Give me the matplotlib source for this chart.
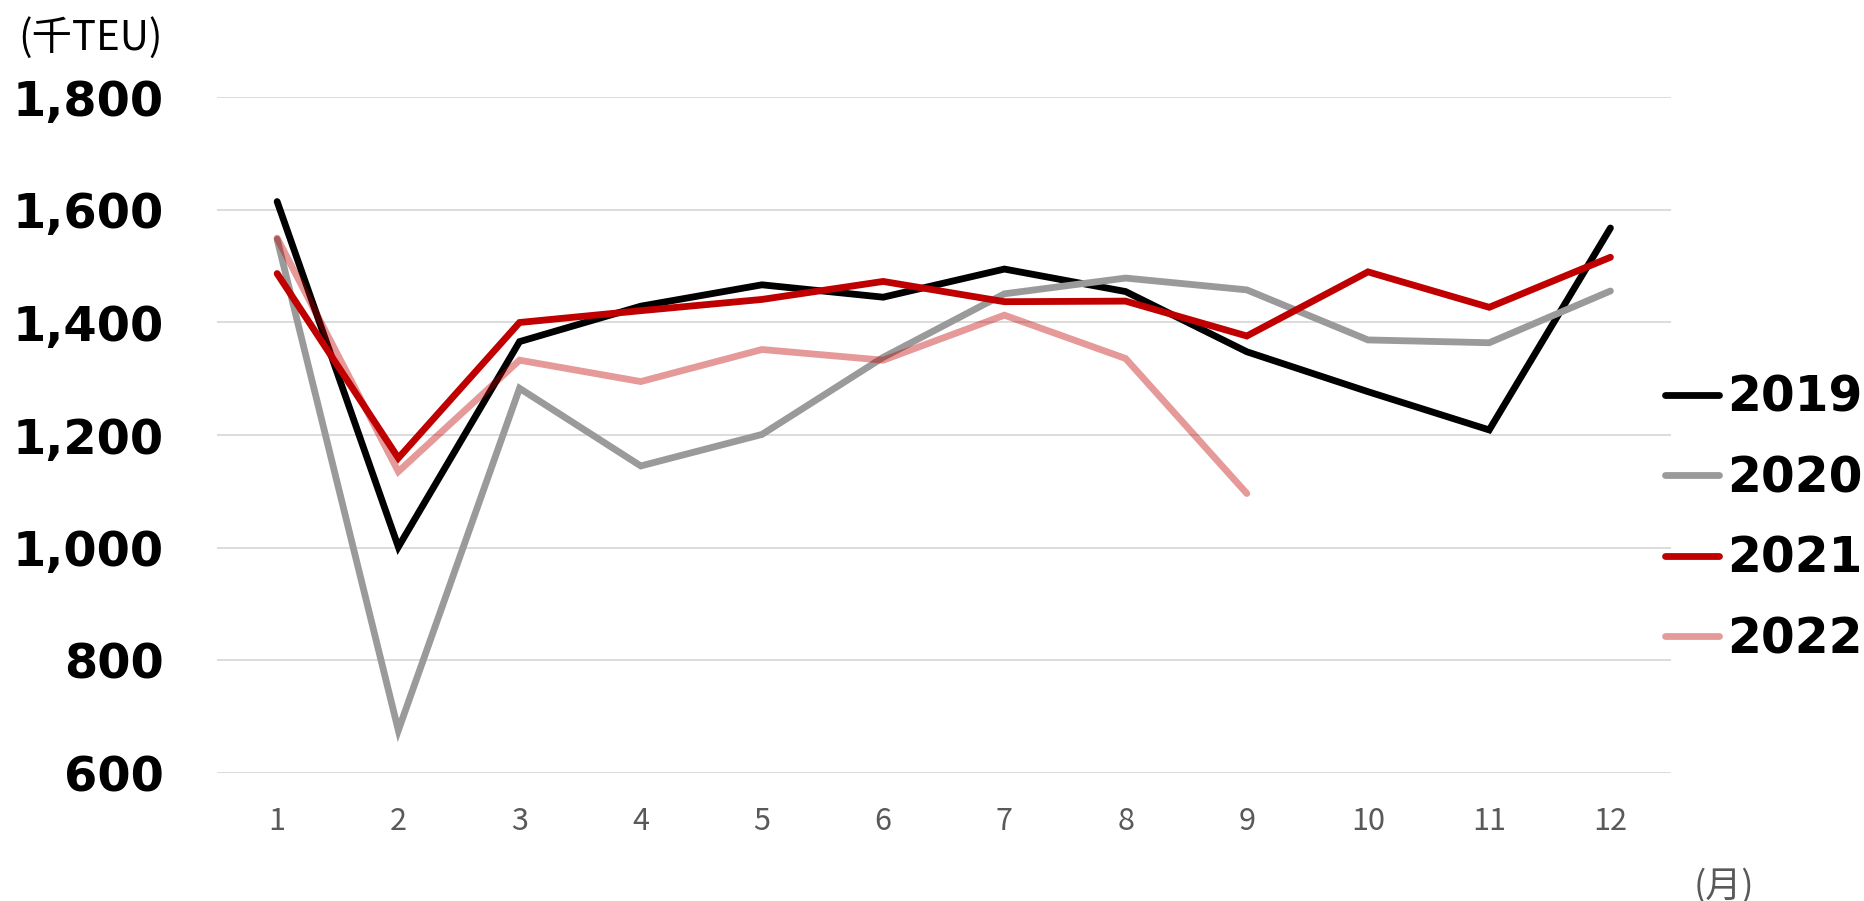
import matplotlib
matplotlib.use("Agg")
import matplotlib.pyplot as plt
from matplotlib.ticker import FuncFormatter

# monthly container volume, thousand TEU
months = list(range(1, 13))
v2019 = [1615, 1001, 1366, 1429, 1467, 1445, 1495, 1455, 1348, 1277, 1209, 1568]
v2020 = [1548, 675, 1283, 1145, 1201, 1338, 1451, 1479, 1458, 1369, 1364, 1456]
v2021 = [1487, 1159, 1400, 1421, 1441, 1473, 1437, 1438, 1376, 1490, 1427, 1516]
v2022 = [1550, 1135, 1333, 1295, 1352, 1333, 1413, 1336, 1096]
years = ["2019", "2020", "2021", "2022"]
yticks = [600, 800, 1000, 1200, 1400, 1600, 1800]

cjk = ["Noto Sans CJK JP", "DejaVu Sans"]

fig = plt.figure(figsize=(18.65, 9.01), dpi=100)
ax = fig.add_axes((0.1161, 0.1426, 0.7799, 0.7492))

series = [
    (v2019, dict(color="#000000")),
    (v2020, dict(color="#9a9a9a")),
    (v2021, dict(color="#c00000")),
    (v2022, dict(color="#c00000", alpha=0.4)),
]
for (vals, style), name in zip(series, years):
    ax.plot(months[:len(vals)], vals, lw=4.9, solid_capstyle="round",
            solid_joinstyle="miter", label=name, zorder=3, **style)

ax.set_xlim(0.5, 12.5)
ax.set_ylim(600, 1800)
ax.set_xticks(months)
ax.set_yticks(yticks)
ax.yaxis.set_major_formatter(FuncFormatter(lambda v, p: f"{int(v):,}"))
ax.grid(axis="y", color="#d9d9d9", lw=1.3, zorder=0)
for s in ax.spines.values():
    s.set_visible(False)
ax.tick_params(axis="both", length=0)
ax.tick_params(axis="y", pad=38, labelsize=34.5)
ax.tick_params(axis="x", pad=24, labelsize=22, labelcolor="#595959")
for t in ax.get_yticklabels():
    t.set_fontweight("bold")
for t in ax.get_xticklabels():
    t.set_family(cjk)

fig.text(0.010, 0.958, "(千TEU)", family=cjk, fontsize=29, ha="left", va="center")
fig.text(0.908, -0.004, "(月)", family=cjk, fontsize=26, color="#595959",
         ha="left", va="bottom")

leg = ax.legend(loc="center left", bbox_to_anchor=(0.8925, 0.4245),
                bbox_transform=fig.transFigure, frameon=False,
                prop=dict(weight="bold", size=35), handlelength=1.12,
                handletextpad=0.16, labelspacing=0.67, borderpad=0,
                borderaxespad=0)

fig.savefig("out.png", dpi=100)
